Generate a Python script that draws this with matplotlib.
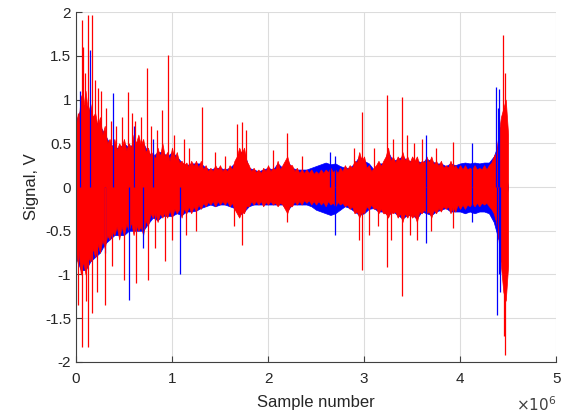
import numpy as np
import matplotlib.pyplot as plt

plt.rcParams['font.family'] = ['Liberation Sans', 'DejaVu Sans']

# red channel envelope, step 0.025e6 samples
x_red = np.linspace(0, 4.5, 181)
red_upper = [0.85, 0.7, 1.05, 0.9, 1.1, 0.85, 0.95, 0.8, 0.85, 0.7,
             0.8, 0.6, 0.7, 0.5, 0.55, 0.45, 0.55, 0.42, 0.5, 0.45,
             0.55, 0.42, 0.5, 0.45, 0.6, 0.5, 0.6, 0.48, 0.55, 0.4,
             0.45, 0.35, 0.4, 0.32, 0.45, 0.35, 0.5, 0.35, 0.4, 0.3,
             0.45, 0.32, 0.4, 0.28, 0.3, 0.25, 0.28, 0.22, 0.3, 0.24,
             0.3, 0.22, 0.3, 0.2, 0.25, 0.18, 0.22, 0.18, 0.25, 0.2,
             0.25, 0.18, 0.22, 0.18, 0.25, 0.2, 0.3, 0.35, 0.45, 0.38,
             0.45, 0.3, 0.25, 0.18, 0.22, 0.17, 0.2, 0.16, 0.22, 0.18,
             0.25, 0.18, 0.22, 0.2, 0.3, 0.2, 0.25, 0.3, 0.35, 0.25,
             0.25, 0.18, 0.22, 0.16, 0.2, 0.16, 0.2, 0.16, 0.2, 0.15,
             0.18, 0.15, 0.2, 0.16, 0.2, 0.17, 0.22, 0.17, 0.2, 0.16,
             0.22, 0.18, 0.25, 0.2, 0.25, 0.22, 0.3, 0.28, 0.4, 0.3,
             0.35, 0.22, 0.25, 0.18, 0.22, 0.25, 0.3, 0.24, 0.3, 0.35,
             0.45, 0.3, 0.35, 0.28, 0.35, 0.3, 0.4, 0.3, 0.35, 0.28,
             0.35, 0.3, 0.35, 0.26, 0.3, 0.28, 0.35, 0.28, 0.35, 0.26,
             0.3, 0.24, 0.3, 0.22, 0.25, 0.22, 0.3, 0.22, 0.25, 0.2,
             0.25, 0.2, 0.25, 0.2, 0.22, 0.2, 0.25, 0.2, 0.22, 0.2,
             0.25, 0.2, 0.25, 0.28, 0.35, 0.4, 0.6, 0.8, 0.9, 1.0,
             0.6]
red_lower = [-0.9, -0.7, -1.0, -0.85, -1.0, -0.8, -0.85, -0.7, -0.8, -0.65,
             -0.75, -0.6, -0.7, -0.55, -0.6, -0.5, -0.55, -0.45, -0.6, -0.45,
             -0.55, -0.42, -0.5, -0.4, -0.55, -0.42, -0.5, -0.45, -0.55, -0.38,
             -0.45, -0.3, -0.35, -0.28, -0.4, -0.3, -0.35, -0.28, -0.35, -0.26,
             -0.35, -0.25, -0.3, -0.25, -0.35, -0.24, -0.3, -0.22, -0.3, -0.22,
             -0.28, -0.2, -0.25, -0.18, -0.22, -0.17, -0.2, -0.16, -0.22, -0.16,
             -0.2, -0.16, -0.2, -0.16, -0.22, -0.18, -0.25, -0.3, -0.35, -0.28,
             -0.3, -0.22, -0.22, -0.16, -0.2, -0.16, -0.2, -0.16, -0.22, -0.17,
             -0.2, -0.16, -0.2, -0.18, -0.22, -0.18, -0.2, -0.25, -0.3, -0.22,
             -0.22, -0.16, -0.2, -0.16, -0.2, -0.15, -0.18, -0.15, -0.2, -0.16,
             -0.2, -0.16, -0.2, -0.17, -0.22, -0.16, -0.2, -0.18, -0.22, -0.17,
             -0.2, -0.18, -0.22, -0.2, -0.25, -0.22, -0.3, -0.28, -0.35, -0.28,
             -0.3, -0.22, -0.25, -0.2, -0.25, -0.24, -0.3, -0.25, -0.3, -0.3,
             -0.35, -0.28, -0.3, -0.28, -0.35, -0.3, -0.4, -0.3, -0.35, -0.3,
             -0.35, -0.32, -0.4, -0.28, -0.3, -0.26, -0.3, -0.28, -0.35, -0.26,
             -0.3, -0.24, -0.28, -0.22, -0.25, -0.22, -0.3, -0.22, -0.28, -0.2,
             -0.25, -0.2, -0.25, -0.2, -0.22, -0.18, -0.22, -0.18, -0.22, -0.18,
             -0.2, -0.18, -0.22, -0.25, -0.3, -0.4, -0.6, -0.9, -1.2, -1.3,
             -0.9]

# blue channel envelope, step 0.05e6 samples
x_blue = np.linspace(0, 4.5, 91)
blue_upper = [0.75, 0.9, 0.95, 0.85, 0.75, 0.7, 0.6, 0.5, 0.45, 0.45,
              0.5, 0.45, 0.5, 0.5, 0.5, 0.4, 0.35, 0.4, 0.4, 0.35,
              0.4, 0.35, 0.28, 0.25, 0.27, 0.27, 0.27, 0.22, 0.2, 0.22,
              0.22, 0.2, 0.22, 0.27, 0.4, 0.4, 0.22, 0.2, 0.18, 0.2,
              0.22, 0.2, 0.27, 0.22, 0.3, 0.22, 0.2, 0.2, 0.2, 0.22,
              0.24, 0.26, 0.28, 0.26, 0.27, 0.24, 0.22, 0.22, 0.27, 0.35,
              0.3, 0.27, 0.2, 0.27, 0.27, 0.4, 0.3, 0.32, 0.35, 0.3,
              0.3, 0.3, 0.28, 0.32, 0.3, 0.27, 0.27, 0.24, 0.27, 0.25,
              0.27, 0.28, 0.27, 0.28, 0.27, 0.28, 0.28, 0.35, 0.5, 0.3,
              0.0]
blue_lower = [-0.8, -0.95, -0.95, -0.85, -0.8, -0.75, -0.65, -0.6, -0.55, -0.55,
              -0.55, -0.5, -0.5, -0.5, -0.5, -0.42, -0.35, -0.38, -0.33, -0.33,
              -0.33, -0.3, -0.32, -0.28, -0.28, -0.27, -0.24, -0.22, -0.2, -0.22,
              -0.2, -0.2, -0.22, -0.24, -0.32, -0.28, -0.22, -0.2, -0.2, -0.2,
              -0.2, -0.2, -0.2, -0.2, -0.27, -0.2, -0.2, -0.2, -0.2, -0.22,
              -0.26, -0.28, -0.3, -0.32, -0.3, -0.26, -0.22, -0.24, -0.28, -0.32,
              -0.3, -0.25, -0.24, -0.28, -0.28, -0.32, -0.28, -0.32, -0.36, -0.32,
              -0.32, -0.36, -0.28, -0.3, -0.32, -0.28, -0.26, -0.24, -0.28, -0.28,
              -0.28, -0.3, -0.28, -0.3, -0.28, -0.28, -0.3, -0.4, -0.6, -0.3,
              0.0]

# individual spikes: position (1e6 samples), peak value (V)
red_spike_x = [0.02, 0.06, 0.07, 0.09, 0.13, 0.17, 0.2, 0.23, 0.26, 0.31,
               0.36, 0.42, 0.48, 0.54, 0.58, 0.62, 0.68, 0.74, 0.78, 0.84,
               0.9, 0.96, 1.02, 1.12, 1.18, 1.31, 1.45, 1.55, 1.68, 1.73,
               1.77, 2.05, 2.2, 2.35, 2.9, 2.98, 3.1, 3.24, 3.3, 3.39,
               3.45, 3.52, 3.6, 3.75, 3.93, 4.45, 4.47,
               0.02, 0.06, 0.1, 0.13, 0.17, 0.22, 0.3, 0.38, 0.5, 0.63,
               0.75, 0.82, 0.93, 1.0, 1.15, 1.25, 1.65, 1.73, 2.2, 2.95,
               2.98, 3.05, 3.15, 3.24, 3.28, 3.39, 3.48, 3.55, 3.7, 3.93,
               4.46, 4.47]
red_spike_y = [0.85, 1.91, 1.6, 1.3, 1.97, 1.97, 1.22, 1.13, 1.1, 0.9,
               0.75, 0.7, 0.8, 1.09, 0.85, 0.75, 0.8, 1.36, 0.7, 0.65,
               0.88, 1.51, 0.6, 0.55, 0.45, 0.92, 0.4, 0.35, 0.72, 0.74,
               0.65, 0.42, 0.62, 0.35, 0.45, 0.86, 0.45, 1.05, 0.55, 1.03,
               0.6, 0.5, 0.55, 0.45, 0.52, 1.74, 1.3,
               -1.35, -1.83, -1.3, -1.83, -1.44, -1.2, -1.35, -0.9, -1.06, -1.1,
               -1.06, -0.7, -0.85, -0.6, -0.55, -0.5, -0.45, -0.66, -0.4, -0.6,
               -0.95, -0.55, -0.45, -0.91, -0.6, -1.25, -0.55, -0.6, -0.5, -0.47,
               -1.7, -1.92]
blue_spike_x = [0.04, 0.15, 0.39, 0.6, 0.8, 2.65, 2.7, 3.65, 4.12, 4.37, 4.39, 4.41,
                0.3, 0.55, 0.7, 1.08, 2.7, 3.64, 4.12, 4.38, 4.4, 4.42]
blue_spike_y = [1.1, 1.57, 1.07, 0.7, 0.55, 0.4, 0.35, 0.6, 0.5, 1.14, 0.9, 1.12,
                -0.75, -1.29, -0.7, -0.99, -0.55, -0.64, -0.4, -1.46, -1.0, -1.2]

fig = plt.figure(figsize=(5.71, 4.17), dpi=100)
ax = fig.add_axes([0.133, 0.132, 0.841, 0.839])

ax.fill_between(x_blue, blue_lower, blue_upper, color='blue', lw=0.5)
ax.vlines(blue_spike_x, 0, blue_spike_y, color='blue', lw=0.9)
ax.fill_between(x_red, red_lower, red_upper, color='red', lw=0.5)
ax.vlines(red_spike_x, 0, red_spike_y, color='red', lw=0.9)

ax.set_xlim(0, 5)
ax.set_ylim(-2, 2)
ax.set_xticks([0, 1, 2, 3, 4, 5])
ax.set_yticks([-2, -1.5, -1, -0.5, 0, 0.5, 1, 1.5, 2])
ax.set_yticklabels(['-2', '-1.5', '-1', '-0.5', '0', '0.5', '1', '1.5', '2'])
ax.grid(True, color='#dcdcdc', lw=0.8)
ax.set_axisbelow(True)
for s in ['top', 'right']:
    ax.spines[s].set_visible(False)
for s in ['left', 'bottom']:
    ax.spines[s].set_color('#404040')
ax.tick_params(direction='in', length=4, colors='#404040', labelsize=11,
               labelcolor='#262626')
ax.tick_params(axis='x', pad=7)
ax.set_xlabel('Sample number', fontsize=12, color='#262626', labelpad=7)
ax.set_ylabel('Signal, V', fontsize=12, color='#262626', labelpad=4)
ax.text(1.0, -0.095, r'$\times10^{6}$', transform=ax.transAxes, ha='right',
        va='top', fontsize=11, color='#404040')

fig.savefig('out.png', dpi=100)
